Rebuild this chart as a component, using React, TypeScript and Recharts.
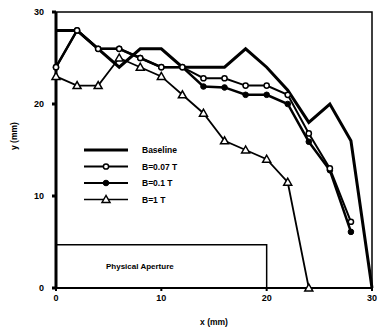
import {
  LineChart,
  Line,
  XAxis,
  YAxis,
  ReferenceArea,
} from "recharts";

// x positions (mm) and y apertures (mm)
const xBaseline = [0, 2, 4, 6, 8, 10, 12, 14, 16, 18, 20, 22, 24, 26, 28, 30];
const yBaseline = [28, 28, 26, 24, 26, 26, 24, 24, 24, 26, 24, 21.5, 18, 20, 16, 0];

const xCircle = [0, 2, 4, 6, 8, 10, 12, 14, 16, 18, 20, 22, 24, 26, 28];
const yB007 = [24, 28, 26, 26, 25, 24, 24, 22.8, 22.8, 22, 22, 21, 16.8, 13, 7.2];
const yB01 = [24, 28, 26, 26, 25, 24, 24, 21.9, 21.8, 21, 21, 20, 15.9, 12.8, 6.1];

const xTriangle = [0, 2, 4, 6, 8, 10, 12, 14, 16, 18, 20, 22, 24];
const yB1 = [23, 22, 22, 25, 24, 23, 21, 19, 16, 15, 14, 11.5, 0];

const ticks = [0, 10, 20, 30];
const apertureTop = 4.7;
const apertureRight = 20;

const toRows = (xs: number[], ys: number[]) => xs.map((x, i) => ({ x, y: ys[i] }));

const baseline = toRows(xBaseline, yBaseline);
const b007 = toRows(xCircle, yB007);
const b01 = toRows(xCircle, yB01);
const b1 = toRows(xTriangle, yB1);

const font = "'Liberation Sans', Arial, sans-serif";

const OpenDot = (p: any) => (
  <circle key={p.key} cx={p.cx} cy={p.cy} r={2.6} fill="#fff" stroke="#000" strokeWidth={1.5} />
);
const FilledDot = (p: any) => (
  <circle key={p.key} cx={p.cx} cy={p.cy} r={2.8} fill="#000" stroke="#000" strokeWidth={1} />
);
const TriDot = (p: any) => (
  <polygon
    key={p.key}
    points={`${p.cx},${p.cy - 4} ${p.cx - 4},${p.cy + 3} ${p.cx + 4},${p.cy + 3}`}
    fill="#fff"
    stroke="#000"
    strokeWidth={1.5}
  />
);

const legendItems = [
  { label: "Baseline", width: 3, marker: null },
  { label: "B=0.07 T", width: 2, marker: "open" },
  { label: "B=0.1 T", width: 2, marker: "filled" },
  { label: "B=1 T", width: 1.5, marker: "tri" },
];

function LegendBox() {
  return (
    <svg width={110} height={70} style={{ display: "block" }}>
      {legendItems.map((it, i) => {
        const y = 6 + i * 16.5;
        return (
          <g key={it.label}>
            <line x1={2} x2={46} y1={y} y2={y} stroke="#000" strokeWidth={it.width} />
            {it.marker === "open" && OpenDot({ cx: 24, cy: y })}
            {it.marker === "filled" && FilledDot({ cx: 24, cy: y })}
            {it.marker === "tri" && TriDot({ cx: 24, cy: y })}
            <text
              x={60}
              y={y + 3}
              fontSize={8.5}
              fontWeight="bold"
              fontFamily={font}
              fill="#000"
            >
              {it.label}
            </text>
          </g>
        );
      })}
    </svg>
  );
}

export default function App() {
  return (
    <div style={{ position: "absolute", left: 0, top: 0, width: 379, height: 327, background: "#fff" }}>
      <LineChart width={379} height={327} margin={{ top: 12, right: 7, left: 0, bottom: 0 }}>
        <XAxis
          type="number"
          dataKey="x"
          domain={[0, 30]}
          ticks={ticks}
          height={39}
          stroke="#000"
          strokeWidth={2}
          tickSize={3}
          tickMargin={4}
          tick={{ fontSize: 9, fontWeight: "bold", fill: "#000", fontFamily: font }}
          label={{
            value: "x  (mm)",
            position: "insideBottom",
            offset: 2,
            fontSize: 8.5,
            fontWeight: "bold",
            fill: "#000",
            fontFamily: font,
          }}
          allowDuplicatedCategory={false}
        />
        <YAxis
          type="number"
          domain={[0, 30]}
          ticks={ticks}
          width={56}
          stroke="#000"
          strokeWidth={3}
          tickSize={4}
          tickMargin={8}
          tick={{ fontSize: 9, fontWeight: "bold", fill: "#000", fontFamily: font }}
          label={{
            value: "y  (mm)",
            angle: -90,
            position: "insideLeft",
            offset: 14,
            dy: 0,
            fontSize: 8.5,
            fontWeight: "bold",
            fill: "#000",
            fontFamily: font,
          }}
        />
        <ReferenceArea
          x1={0}
          x2={30}
          y1={0}
          y2={30}
          fill="none"
          stroke="#000"
          strokeWidth={1.5}
          ifOverflow="visible"
        />
        <ReferenceArea
          x1={0}
          x2={apertureRight}
          y1={0}
          y2={apertureTop}
          fill="none"
          stroke="#000"
          strokeWidth={1.5}
          label={{
            value: "Physical Aperture",
            position: "insideLeft",
            offset: 50,
            fontSize: 8,
            fontWeight: "bold",
            fill: "#000",
            fontFamily: font,
          }}
        />
        <Line
          data={baseline}
          dataKey="y"
          name="Baseline"
          type="linear"
          stroke="#000"
          strokeWidth={3}
          dot={false}
          isAnimationActive={false}
        />
        <Line
          data={b01}
          dataKey="y"
          name="B=0.1 T"
          type="linear"
          stroke="#000"
          strokeWidth={2.5}
          dot={FilledDot}
          isAnimationActive={false}
        />
        <Line
          data={b007}
          dataKey="y"
          name="B=0.07 T"
          type="linear"
          stroke="#000"
          strokeWidth={2}
          dot={OpenDot}
          isAnimationActive={false}
        />
        <Line
          data={b1}
          dataKey="y"
          name="B=1 T"
          type="linear"
          stroke="#000"
          strokeWidth={1.8}
          dot={TriDot}
          isAnimationActive={false}
        />
      </LineChart>
      <div style={{ position: "absolute", left: 82, top: 144 }}>
        <LegendBox />
      </div>
    </div>
  );
}
